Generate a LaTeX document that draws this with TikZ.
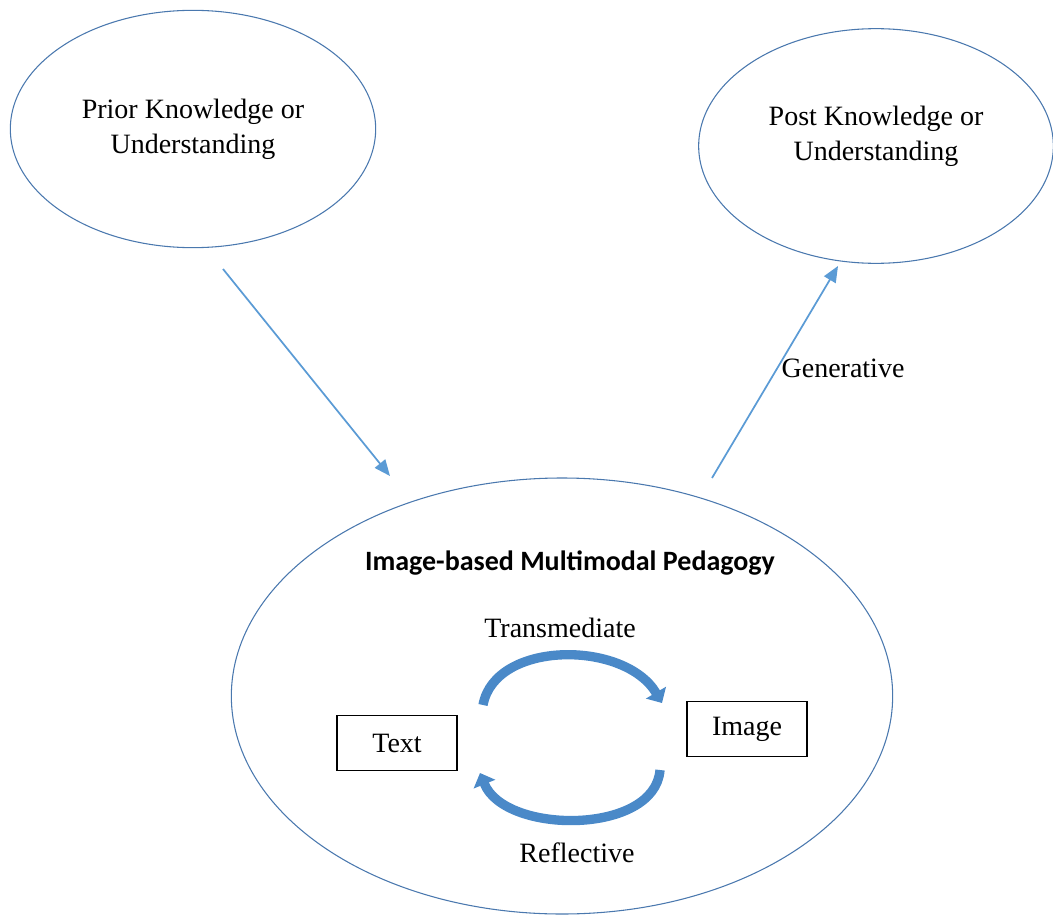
\documentclass[tikz,border=0pt]{standalone}
\usepackage{fontspec}
\setmainfont{Liberation Serif}
\newfontfamily\titlefont{Carlito}
\usepackage{xcolor}
\definecolor{cEdge}{HTML}{4A78AE}
\definecolor{cArrow}{HTML}{5B9BD5}
\definecolor{cCycle}{HTML}{4A89C8}
\usetikzlibrary{positioning,arrows.meta,shapes.geometric}
\tikzset{
  node-oval/.style={draw=cEdge,thick,ellipse,inner sep=0pt,align=center,
    font=\fontsize{21}{26}\selectfont},
  node-box/.style={draw=black,thick,minimum width=90pt,minimum height=41pt,
    inner sep=0pt,font=\fontsize{21}{26}\selectfont},
  node-label/.style={font=\fontsize{21}{26}\selectfont},
  arrow/.style={-{Triangle[length=12pt,width=10pt]},line width=1.3pt,draw=cArrow},
  arrow-cycle/.style={-{Triangle[length=9pt,width=17pt]},line width=7pt,draw=cCycle},
}
\begin{document}
\begin{tikzpicture}[x=0.75pt,y=-0.75pt]
  \useasboundingbox (0,0) rectangle (1053,917);
  % the three ellipses
  \node[node-oval,minimum width=274pt,minimum height=178pt] (prior) at (193,129)
    {Prior Knowledge or\\Understanding};
  \node[node-oval,minimum width=266pt,minimum height=176pt] (post) at (876,146)
    {Post Knowledge or\\Understanding\\[-6.5pt]};
  \node[node-oval,minimum width=496pt,minimum height=327pt] (ped) at (562,696) {};
  \node[font=\titlefont\bfseries\fontsize{21}{26}\selectfont] (title) at (570,563)
    {Image-based Multimodal Pedagogy};
  % text and image
  \node[node-box] (text) at (397,743) {Text};
  \node[node-box] (image) at (747,729) {Image};
  \node[node-label] (trans) at (560,628) {Transmediate};
  \node[node-label] (refl) at (577,853) {Reflective};
  % outer arrows
  \coordinate (in-start) at (223,269);
  \coordinate (in-end) at (390,476);
  \coordinate (out-start) at (712,478);
  \coordinate (out-end) at (838,266);
  \draw[arrow] (in-start) -- (in-end);
  \draw[arrow] (out-start) -- (out-end);
  \node[node-label] (gen) at (843,368) {Generative};
  % cycle between text and image
  \coordinate (top-a) at (483,705);
  \coordinate (top-b) at (662,703);
  \coordinate (bot-a) at (660,770);
  \coordinate (bot-b) at (480,773);
  \draw[arrow-cycle] (top-a) .. controls (495,640) and (625,640) .. (top-b);
  \draw[arrow-cycle] (bot-a) .. controls (655,835) and (505,835) .. (bot-b);
\end{tikzpicture}
\end{document}
